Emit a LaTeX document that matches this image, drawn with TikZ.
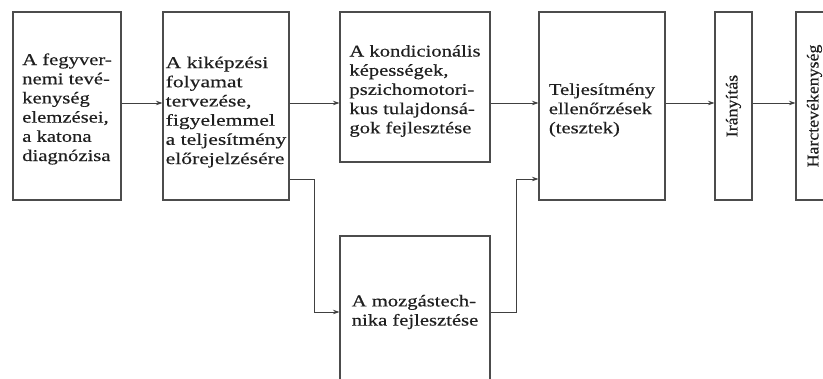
\documentclass[tikz,border=0pt]{standalone}
\usepackage{fontspec}
\setmainfont{Liberation Serif}[FakeStretch=1.25,FakeBold=0.4]
\newfontfamily\widefont{Liberation Serif}[FakeStretch=1.31,FakeBold=0.4]
\newfontfamily\upfont{Liberation Serif}[FakeStretch=1.08,FakeBold=0.35]
\usetikzlibrary{arrows.meta}
\definecolor{boxgray}{gray}{0.3}
\definecolor{linegray}{gray}{0.25}
\definecolor{inkgray}{gray}{0.12}
% invisible strut that fixes the height of a first text line
\newcommand{\toppad}[1]{\rule{0pt}{#1pt}}

\begin{document}
\begin{tikzpicture}[x=1pt,y=-1pt,
  box/.style={draw=boxgray, line width=1.1pt, align=left, inner sep=0pt,
    text=inkgray, font=\fontsize{16.5}{19.2}\selectfont},
  flow/.style={draw=linegray, line width=0.8pt,
    -{Stealth[length=6.5pt,width=4.5pt]}}]
\useasboundingbox (0,0) rectangle (823,379);
\clip (0,0) rectangle (823,379);

% main boxes
\node[box, minimum width=108pt, minimum height=188pt] (b1) at (67,106)
  {\toppad{17.6}A fegyver-\\nemi tevé-\\kenység\\elemzései,\\a katona\\diagnózisa};
\node[box, minimum width=126pt, minimum height=188pt,
      font=\widefont\fontsize{16.5}{19.2}\selectfont] (b2) at (226,106)
  {\toppad{23.6}A kiképzési\\folyamat\\tervezése,\\figyelemmel\\a teljesítmény\\előrejelzésére};
\node[box, minimum width=150pt, minimum height=150pt] (b3) at (415,87)
  {\toppad{19.4}A kondicionális\\képességek,\\pszichomotori-\\kus tulajdonsá-\\gok fejlesztése};
\node[box, minimum width=150pt, minimum height=152pt] (b4) at (415,312)
  {\toppad{11.4}A mozgástech-\\nika fejlesztése};
\node[box, minimum width=126pt, minimum height=188pt] (b5) at (602,106)
  {\toppad{19.7}Teljesítmény\\ellenőrzések\\(tesztek)};
\node[box, minimum width=37pt, minimum height=188pt] (b6) at (733.5,106)
  {\rotatebox{90}{\upfont\fontsize{16.5}{19}\selectfont Irányítás}};
\node[box, minimum width=37pt, minimum height=188pt] (b7) at (814.5,106)
  {\rotatebox{90}{\upfont\fontsize{16.5}{19}\selectfont Harctevékenység}};

% rows of the connectors
\coordinate (row) at (0,103);
\coordinate (low) at (0,179);

% connectors
\draw[flow] (b1.east |- row) -- (b2.west |- row);
\draw[flow] (b2.east |- row) -- (b3.west |- row);
\draw[flow] (b3.east |- row) -- (b5.west |- row);
\draw[flow] (b5.east |- row) -- (b6.west |- row);
\draw[flow] (b6.east |- row) -- (b7.west |- row);
\draw[flow] (b2.east |- low) -- ++(25,0) |- (b4.west);
\draw[flow] (b4.east) -- ++(26,0) |- (b5.west |- low);
\end{tikzpicture}
\end{document}
